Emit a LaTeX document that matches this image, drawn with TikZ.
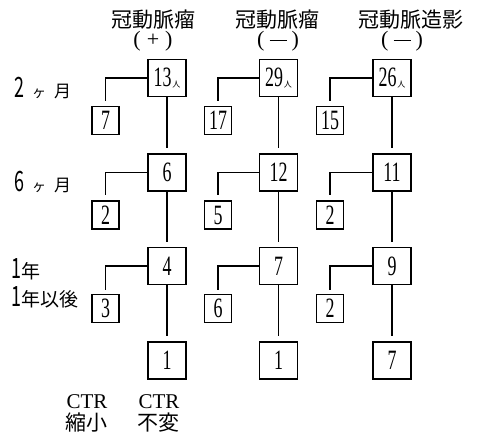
\documentclass[tikz,border=0pt]{standalone}
\usepackage{fontspec}
\usepackage{graphicx}
\setmainfont{Liberation Serif}
\newfontfamily\cjk{Noto Sans CJK JP}
\newcommand\nm[1]{\scalebox{0.64}[1]{\fontsize{28}{28}\selectfont #1}}
\newcommand\nin[1]{\nm{#1}\hspace{1pt}\raisebox{-1pt}{\cjk\fontsize{8}{8}\selectfont 人}}
\newcommand\signp{(\hspace{6pt}+\hspace{6pt})}
\newcommand\signm{(\hspace{5pt}\rule[0.24em]{17pt}{1.1pt}\hspace{5pt})}
\begin{document}
\begin{tikzpicture}[x=1pt,y=-1pt,
  mainbox/.style={draw, line width=1.3pt, minimum width=38pt, minimum height=37pt, inner sep=0pt},
  smallbox/.style={draw, line width=1.2pt, minimum width=27pt, minimum height=28pt, inner sep=0pt},
  conn/.style={line width=1.2pt},
  hdr/.style={font=\cjk\fontsize{21}{21}\selectfont, inner sep=0pt},
  sgn/.style={font=\fontsize{22}{22}\selectfont, inner sep=0pt},
  lbl/.style={anchor=west, inner sep=0pt, font=\cjk\fontsize{19}{19}\selectfont},
  ctr/.style={font=\fontsize{21}{21}\selectfont, inner sep=0pt}]
\useasboundingbox (0,0) rectangle (477,436);
% headers
\node[hdr] (h1) at (153,20) {冠動脈瘤};
\node[sgn] (p1) at (153,41) {\signp};
\node[hdr] (h2) at (277,20) {冠動脈瘤};
\node[sgn] (p2) at (278,41) {\signm};
\node[hdr] (h3) at (411,20) {冠動脈造影};
\node[sgn] (p3) at (402,41) {\signm};
% row labels
\node[lbl] (l1) at (14,88) {\nm{2}\hspace{8pt}{\fontsize{14}{14}\selectfont ヶ}\hspace{8pt}{\fontsize{17}{17}\selectfont 月}};
\node[lbl] (l2) at (14,182) {\nm{6}\hspace{8pt}{\fontsize{14}{14}\selectfont ヶ}\hspace{8pt}{\fontsize{17}{17}\selectfont 月}};
\node[lbl] (l3) at (11,269) {\nm{1}年};
\node[lbl] (l4) at (11,297) {\nm{1}年以後};
% column 1
\node[mainbox] (a1) at (167,78) {\nin{13}};
\node[mainbox] (a2) at (167,172.5) {\nm{6}};
\node[mainbox] (a3) at (167,266) {\nm{4}};
\node[mainbox] (a4) at (167,360.5) {\nm{1}};
\node[smallbox] (b1) at (105.5,120.5) {\nm{7}};
\node[smallbox] (b2) at (105.5,215) {\nm{2}};
\node[smallbox] (b3) at (105.5,308.5) {\nm{3}};
% column 2
\node[mainbox] (c1) at (278.5,78) {\nin{29}};
\node[mainbox] (c2) at (278.5,172.5) {\nm{12}};
\node[mainbox] (c3) at (278.5,266) {\nm{7}};
\node[mainbox] (c4) at (278.5,360.5) {\nm{1}};
\node[smallbox] (d1) at (218,120.5) {\nm{17}};
\node[smallbox] (d2) at (218,215) {\nm{5}};
\node[smallbox] (d3) at (218,308.5) {\nm{6}};
% column 3
\node[mainbox] (e1) at (392,78) {\nin{26}};
\node[mainbox] (e2) at (392,172.5) {\nm{11}};
\node[mainbox] (e3) at (392,266) {\nm{9}};
\node[mainbox] (e4) at (392,360.5) {\nm{7}};
\node[smallbox] (f1) at (330,120.5) {\nm{15}};
\node[smallbox] (f2) at (330,215) {\nm{2}};
\node[smallbox] (f3) at (330,308.5) {\nm{2}};
% connectors
\foreach \m/\s in {a/b,c/d,e/f}{
  \draw[conn,shorten >=5pt] (\m1) -- (\m2);
  \draw[conn,shorten >=5pt] (\m2) -- (\m3);
  \draw[conn,shorten >=5pt] (\m3) -- (\m4);
  \draw[conn,shorten >=5pt] (\m1.west) -| (\s1.north);
  \draw[conn,shorten >=5pt] (\m2.west) -| (\s2.north);
  \draw[conn,shorten >=4pt] (\m3.west) -| (\s3.north);
}
% bottom labels
\node[ctr] (t1) at (87,402) {CTR};
\node[hdr] (u1) at (86,423) {縮小};
\node[ctr] (t2) at (159,402) {CTR};
\node[hdr] (u2) at (158,423) {不変};
\end{tikzpicture}
\end{document}
